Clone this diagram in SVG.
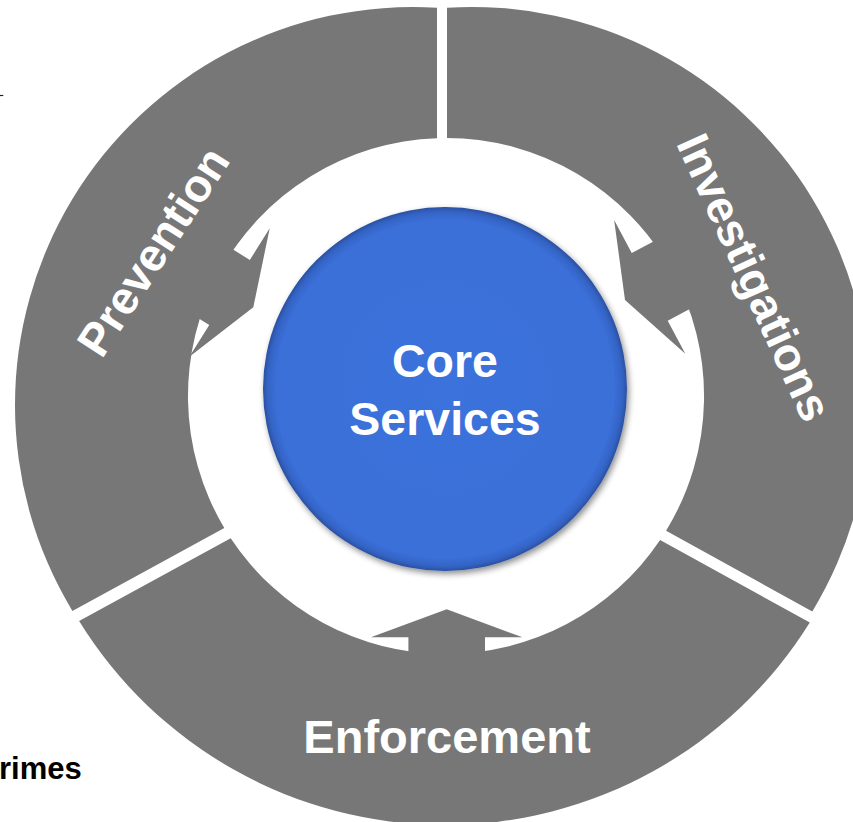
<svg xmlns="http://www.w3.org/2000/svg" width="853" height="822" viewBox="0 0 853 822">
<defs>
<style>
.seg{fill:#777777}
.arw{fill:#777777}
.lbl{font-family:"Liberation Sans",Arial,sans-serif;font-weight:bold;fill:#ffffff}
.note{font-family:"Liberation Sans",Arial,sans-serif;font-weight:bold;fill:#000000}
</style>
<radialGradient id="blueFill" cx="50%" cy="50%" r="50%">
<stop offset="0" stop-color="#3B72DB"/>
<stop offset="0.93" stop-color="#3A6FD8"/>
<stop offset="0.975" stop-color="#3463C4"/>
<stop offset="1" stop-color="#2A50A0"/>
</radialGradient>
<filter id="shadow" x="-20%" y="-20%" width="140%" height="140%">
<feGaussianBlur in="SourceAlpha" stdDeviation="3"/>
<feOffset dx="2" dy="3" result="b"/>
<feComponentTransfer><feFuncA type="linear" slope="0.45"/></feComponentTransfer>
<feMerge><feMergeNode/><feMergeNode in="SourceGraphic"/></feMerge>
</filter>
<path id="arrow" d="M0,0 L75.8,28 L38.3,28 L38.3,80 L-38.3,80 L-38.3,28 L-75.8,28 Z"/>
</defs>
<rect x="0" y="0" width="853" height="822" fill="#ffffff"/>

<g id="prevention">
<path class="seg" d="M437,7.72 A398,398 0 0 0 72.4,610.9 L224.3,528 A258,258 0 0 1 437,138.16 Z"/>
<text class="lbl" font-size="46" text-anchor="middle" transform="translate(166.5,260) rotate(-57)">Prevention</text>
</g>

<g id="investigations">
<path class="seg" d="M447,7.78 A398,398 0 0 1 812.3,611.4 L666.1,530.7 A258,258 0 0 0 447,138 Z"/>
<text class="lbl" font-size="46" text-anchor="middle" transform="translate(740,284) rotate(65.5)">Investigations</text>
</g>

<g id="enforcement">
<path class="seg" d="M809.8,622.6 A430,430 0 0 1 79.1,621 L230.7,538.2 A258,258 0 0 0 660.1,540 Z"/>
<text class="lbl" font-size="47" text-anchor="middle" x="447" y="752.7">Enforcement</text>
</g>

<g id="connectors">
<use href="#arrow" class="arw" transform="translate(446.7,609.3)"/>
<use href="#arrow" class="arw" transform="translate(253.3,307.3) rotate(122)"/>
<use href="#arrow" class="arw" transform="translate(625,300) rotate(-118)"/>
</g>

<g id="core">
<circle cx="445" cy="389" r="182" fill="url(#blueFill)" filter="url(#shadow)"/>
<text class="lbl" font-size="46.5" text-anchor="middle" x="445" y="377">Core</text>
<text class="lbl" font-size="46.5" text-anchor="middle" x="445" y="435">Services</text>
</g>

<g id="stray">
<line x1="0" y1="95.5" x2="3.3" y2="95.5" stroke="#222222" stroke-width="1.2"/>
<text class="note" font-size="31" x="-1" y="779">rimes</text>
</g>
</svg>
